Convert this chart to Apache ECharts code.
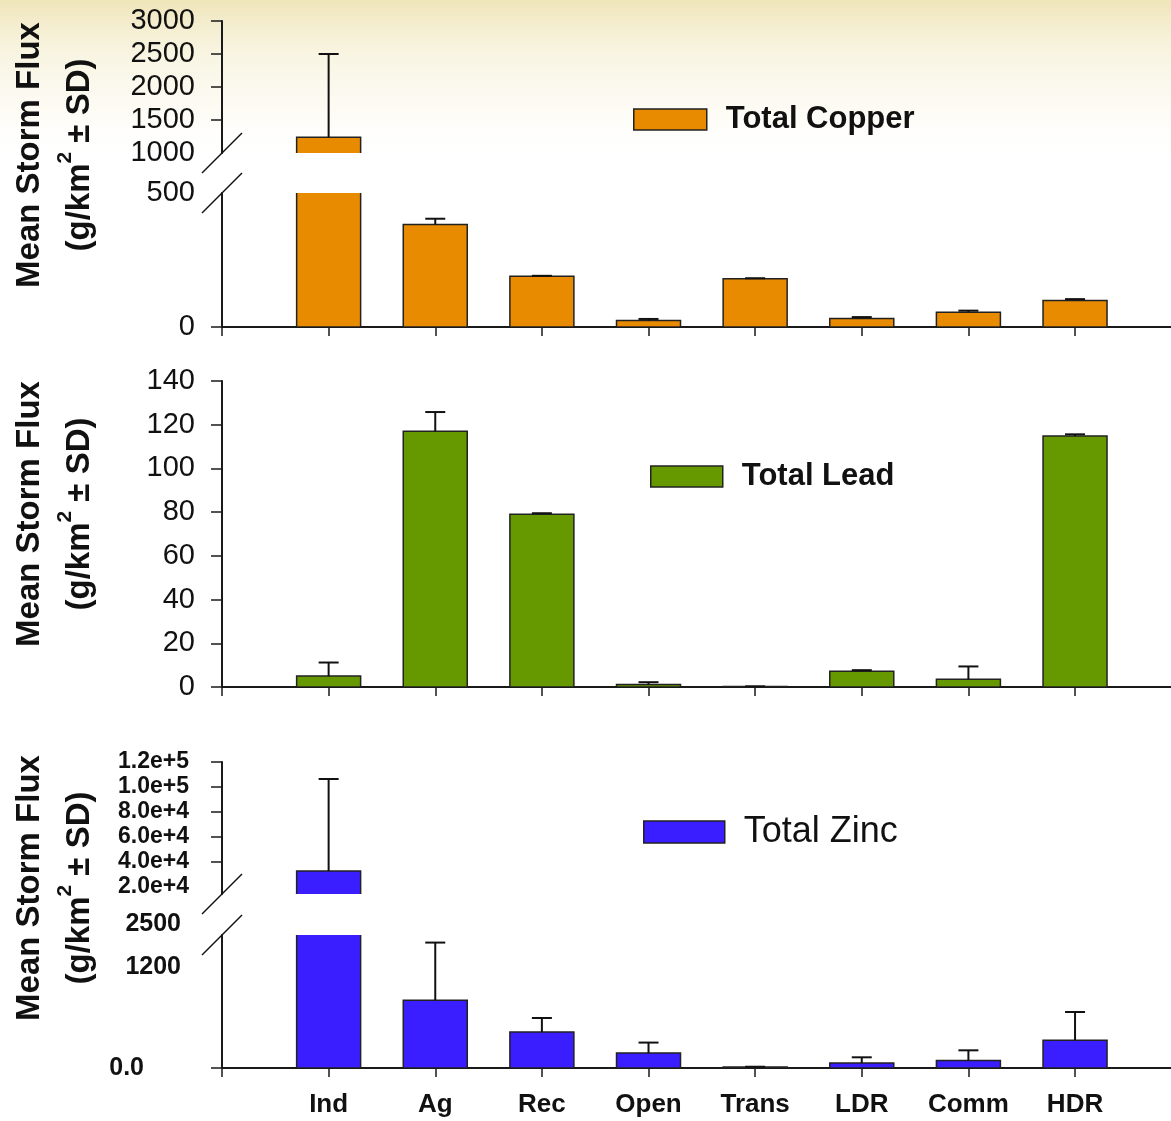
<!DOCTYPE html>
<html>
<head>
<meta charset="utf-8">
<script src="https://cdn.jsdelivr.net/npm/echarts@6/dist/echarts.min.js"></script>
<style>
  html, body { margin: 0; padding: 0; background: #fff; }
  #chart { width: 1171px; height: 1121px; }
</style>
</head>
<body>
<div id="chart"></div>
<script>
// land use categories (x axis)
const categories = ["Ind", "Ag", "Rec", "Open", "Trans", "LDR", "Comm", "HDR"];

// mean storm flux and SD
const copperMean = [1238, 382, 189, 24, 180, 32, 55, 99];
const copperSD = [1262, 22, 2, 6, 2, 5, 6, 5];
const leadMean = [5.0, 117, 79, 1.2, 0.2, 7.2, 3.5, 114.8];
const leadSD = [6.2, 8.8, 0.5, 1.0, 0.1, 0.5, 5.9, 0.8];
const zincMean = [32800, 804, 428, 178, 12, 59, 88, 329];
const zincSD = [73600, 686, 166, 124, 3, 68, 122, 336];

// axis ticks / labels
const copperUpperLabels = [1000, 1500, 2000, 2500, 3000];
const copperUpperTicks = [1500, 2000, 2500, 3000];
const copperLowerLabels = [0, 500];
const leadLabels = [0, 20, 40, 60, 80, 100, 120, 140];
const zincUpperLabels = [20000, 40000, 60000, 80000, 100000, 120000];
const zincUpperTicks = [40000, 60000, 80000, 100000, 120000];
const zincLowerValues = [0, 1200, 1580];
const zincLowerText = ["0.0", "1200", "2500"];

const FONT = '"Liberation Sans", Arial, sans-serif';
const AXIS = '#1a1a1a';

const myChart = echarts.init(document.getElementById("chart"));

const xIdx = categories.map((c, i) => i + 1);

function xAxis(gridIndex, showLine, showLabels) {
  return {
    type: "value", gridIndex: gridIndex, min: 0, max: 8.9,
    show: showLine,
    axisLine: { show: true, lineStyle: { color: AXIS, width: 2 } },
    axisTick: { show: true, length: 9, customValues: [0].concat(xIdx), lineStyle: { color: AXIS, width: 1.5 } },
    axisLabel: {
      show: showLabels, customValues: xIdx, margin: 24,
      formatter: v => categories[v - 1] || "",
      fontFamily: FONT, fontWeight: "bold", fontSize: 26, color: "#111"
    },
    splitLine: { show: false }
  };
}

function yAxis(gridIndex, min, max, labels, ticks, label) {
  return {
    type: "value", gridIndex: gridIndex, min: min, max: max,
    axisLine: { show: true, lineStyle: { color: AXIS, width: 2 } },
    axisTick: { show: true, length: 11, customValues: ticks, lineStyle: { color: AXIS, width: 1.5 } },
    axisLabel: Object.assign({ customValues: labels, color: "#111", fontFamily: FONT, formatter: v => String(v) }, label),
    splitLine: { show: false }
  };
}

// bars drawn as rects from 0 so that split segments get clipped like the original
function barRender(params, api) {
  const x = api.value(0), m = api.value(1);
  const top = api.coord([x, m]);
  const base = api.coord([x, 0]);
  return {
    type: "rect",
    shape: { x: top[0] - 32, y: top[1], width: 64, height: base[1] - top[1] },
    style: { fill: api.visual("color"), stroke: "#222", lineWidth: 1.5 }
  };
}

function bars(name, mean, color, gridIdx) {
  return {
    name: name, type: "custom", xAxisIndex: gridIdx, yAxisIndex: gridIdx,
    clip: true, z: 2, renderItem: barRender,
    itemStyle: { color: color },
    data: mean.map((v, i) => [i + 1, v])
  };
}

function errorRender(params, api) {
  const x = api.value(0), m = api.value(1), s = api.value(2);
  const base = api.coord([x, m]);
  const top = api.coord([x, m + s]);
  const st = { stroke: "#111", lineWidth: 2 };
  return {
    type: "group",
    children: [
      { type: "line", shape: { x1: base[0], y1: base[1], x2: top[0], y2: top[1] }, style: st },
      { type: "line", shape: { x1: top[0] - 10, y1: top[1], x2: top[0] + 10, y2: top[1] }, style: st }
    ]
  };
}

function errors(name, mean, sd, gridIdx) {
  return {
    name: name, type: "custom", xAxisIndex: gridIdx, yAxisIndex: gridIdx,
    clip: true, z: 3, renderItem: errorRender,
    data: mean.map((v, i) => [i + 1, v, sd[i]])
  };
}

const plainLabel = { fontSize: 29, margin: 27 };
const zincLabel = { fontSize: 23, fontWeight: "bold", margin: 33, formatter: v => v.toExponential(1) };
const zincLowLabel = {
  fontSize: 25, fontWeight: "bold", margin: 41,
  formatter: v => {
    const t = zincLowerText[zincLowerValues.indexOf(v)];
    if (v === 0) return "{z|" + t + "}";
    if (v === zincLowerValues[2]) return "{t|" + t + "}";
    return t;
  },
  rich: {
    z: { fontSize: 25, fontWeight: "bold", fontFamily: FONT, color: "#111", padding: [0, 37, 0, 0] },
    t: { fontSize: 25, fontWeight: "bold", fontFamily: FONT, color: "#111", padding: [0, 0, 22, 0] }
  }
};

function yTitle(id, cy) {
  return {
    id: id, type: "text", x: 55, y: cy, rotation: Math.PI / 2, z: 10,
    style: {
      text: "{a|Mean Storm Flux}\n{a|(g/km}{s|2}{a| ± SD)}",
      align: "center", verticalAlign: "middle",
      rich: {
        a: { fontSize: 33, fontWeight: "bold", fontFamily: FONT, fill: "#111", lineHeight: 50 },
        s: { fontSize: 21, fontWeight: "bold", fontFamily: FONT, fill: "#111", lineHeight: 21, verticalAlign: "top" }
      }
    }
  };
}

function legend(name, left, top, size, weight, w, h) {
  return {
    data: [name], left: left, top: top, padding: 0,
    icon: "rect", itemWidth: w, itemHeight: h,
    itemStyle: { borderColor: "#222", borderWidth: 1.5 },
    textStyle: { fontSize: size, fontWeight: weight, fontFamily: FONT, color: "#111", padding: [0, 0, 0, 14] },
    selectedMode: false
  };
}

const option = {
  animation: false,
  backgroundColor: "#fff",
  grid: [
    { left: 222, right: 0, top: 21, height: 132 },
    { left: 222, right: 0, top: 193, height: 134 },
    { left: 222, right: 0, top: 381, height: 306 },
    { left: 222, right: 0, top: 762, height: 132 },
    { left: 222, right: 0, top: 935, height: 133 }
  ],
  xAxis: [
    xAxis(0, false, false),
    xAxis(1, true, false),
    xAxis(2, true, false),
    xAxis(3, false, false),
    xAxis(4, true, true)
  ],
  yAxis: [
    yAxis(0, 1000, 3000, copperUpperLabels, copperUpperTicks, plainLabel),
    yAxis(1, 0, 500, copperLowerLabels, [0], plainLabel),
    yAxis(2, 0, 140, leadLabels, leadLabels, plainLabel),
    yAxis(3, 14400, 120000, zincUpperLabels, zincUpperTicks, zincLabel),
    yAxis(4, 0, 1580, zincLowerValues, [0], zincLowLabel)
  ],
  legend: [
    legend("Total Copper", 633, 104, 31, "bold", 73, 21),
    legend("Total Lead", 650, 461, 31, "bold", 72, 21),
    legend("Total Zinc", 643, 814, 36, "normal", 81, 22)
  ],
  series: [
    bars("Total Copper", copperMean, "#E98B00", 1),
    bars("cuTop", copperMean, "#E98B00", 0),
    bars("Total Lead", leadMean, "#669900", 2),
    bars("Total Zinc", zincMean, "#3A1EFF", 4),
    bars("znTop", zincMean, "#3A1EFF", 3),
    errors("cuErr", copperMean, copperSD, 0),
    errors("cuErr2", copperMean, copperSD, 1),
    errors("pbErr", leadMean, leadSD, 2),
    errors("znErr", zincMean, zincSD, 3),
    errors("znErr2", zincMean, zincSD, 4)
  ],
  graphic: [
    {
      id: "bg", type: "rect", z: -10, silent: true,
      shape: { x: 0, y: 0, width: 1171, height: 160 },
      style: {
        fill: new echarts.graphic.LinearGradient(0, 0, 0, 1, [
          { offset: 0, color: "rgba(230,212,140,0.6)" },
          { offset: 0.35, color: "rgba(238,230,185,0.4)" },
          { offset: 0.75, color: "rgba(250,246,228,0.3)" },
          { offset: 1, color: "rgba(255,255,255,0)" }
        ])
      }
    },
    yTitle("t1", 155),
    yTitle("t2", 514),
    yTitle("t3", 888)
  ]
};

myChart.setOption(option);

// break marks on the split y axes
const slashes = [];
[[0, 1000], [1, 500], [3, 14400], [4, 1580]].forEach((b, k) => {
  const ax = myChart.convertToPixel({ xAxisIndex: b[0] }, 0);
  const y = myChart.convertToPixel({ yAxisIndex: b[0] }, b[1]);
  slashes.push({
    id: "br" + k, type: "line", z: 20,
    shape: { x1: ax - 20, y1: y + 20, x2: ax + 20, y2: y - 20 },
    style: { stroke: "#111", lineWidth: 1.5 }
  });
});
myChart.setOption({ graphic: slashes });

window.addEventListener("resize", function() {
  if (myChart != null && myChart != undefined) {
    myChart.resize();
  }
});
</script>
</body>
</html>
